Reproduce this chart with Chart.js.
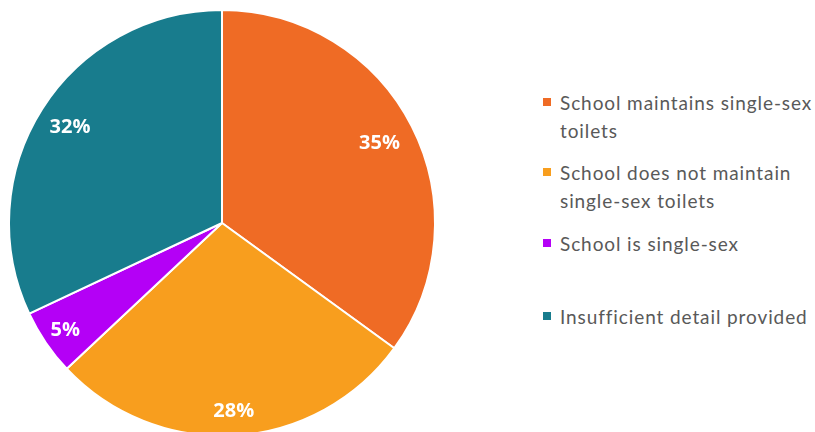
<!DOCTYPE html>
<html>
<head>
<meta charset="utf-8">
<script src="https://cdn.jsdelivr.net/npm/chart.js@4.4.1/dist/chart.umd.min.js"></script>
<style>
    html, body { margin: 0; padding: 0; background: #fff; overflow: hidden; }
    body { width: 815px; height: 432px; position: relative; }
    #pie-box { position: absolute; left: 0; top: 0; width: 444px; height: 446px; }
    #legend { position: absolute; left: 543px; top: 89px; font-family: Lato, sans-serif; font-size: 19px; letter-spacing: 0.9px; color: #595959; white-space: nowrap; }
    .item { position: relative; padding-left: 17px; line-height: 28px; }
    .item .box { position: absolute; left: 0; top: 9px; width: 8px; height: 8px; }
</style>
</head>
<body>
<div id="pie-box"><canvas id="pie"></canvas></div>
<div id="legend"></div>
<script>
const categories = [
    'School maintains single-sex toilets',
    'School does not maintain single-sex toilets',
    'School is single-sex',
    'Insufficient detail provided'
]
// legend text as it wraps in the picture
const legendLines = [
    ['School maintains single-sex', 'toilets'],
    ['School does not maintain', 'single-sex toilets'],
    ['School is single-sex'],
    ['Insufficient detail provided']
]
const shares = [35, 28, 5, 32]
const colours = ['#EF6B25', '#F89E1E', '#B400F6', '#187C8D']

const legendGaps = [14, 15, 45, 0]
// how far out (share of radius) each % label sits
const labelRadius = [0.83, 0.88, 0.89, 0.845]

document.addEventListener('DOMContentLoaded', () => {
    buildLegend();
    drawPie();
});

function buildLegend() {
    const legend = document.querySelector('#legend');
    legendLines.forEach((lines, i) => {
        const item = document.createElement('div');
        item.className = 'item';
        item.style.marginBottom = legendGaps[i] + 'px';
        const box = document.createElement('span');
        box.className = 'box';
        box.style.background = colours[i];
        item.appendChild(box);
        item.insertAdjacentHTML('beforeend', lines.join('<br>'));
        legend.appendChild(item);
    })
}

// white percent labels inside each slice
const sliceLabels = {
    id: 'sliceLabels',
    afterDatasetsDraw(chart) {
        const ctx = chart.ctx;
        const meta = chart.getDatasetMeta(0);
        ctx.save();
        ctx.fillStyle = '#fff';
        ctx.font = 'bold 20px "Open Sans", sans-serif';
        ctx.textAlign = 'center';
        ctx.textBaseline = 'middle';
        meta.data.forEach((arc, i) => {
            const mid = (arc.startAngle + arc.endAngle) / 2;
            const r = arc.outerRadius * labelRadius[i];
            ctx.fillText(shares[i] + '%', arc.x + Math.cos(mid) * r, arc.y + Math.sin(mid) * r + 1);
        })
        ctx.restore();
    }
}

function drawPie() {
    new Chart(document.querySelector('#pie'), {
        type: 'pie',
        data: {
            labels: categories,
            datasets: [{
                data: shares,
                backgroundColor: colours,
                borderColor: '#fff',
                borderWidth: 2,
                hoverOffset: 0
            }]
        },
        options: {
            responsive: true,
            maintainAspectRatio: false,
            animation: false,
            layout: { padding: { left: 8, right: 8, top: 9, bottom: 9 } },
            plugins: {
                legend: { display: false },
                tooltip: { enabled: false }
            }
        },
        plugins: [sliceLabels]
    })
}
</script>
</body>
</html>
